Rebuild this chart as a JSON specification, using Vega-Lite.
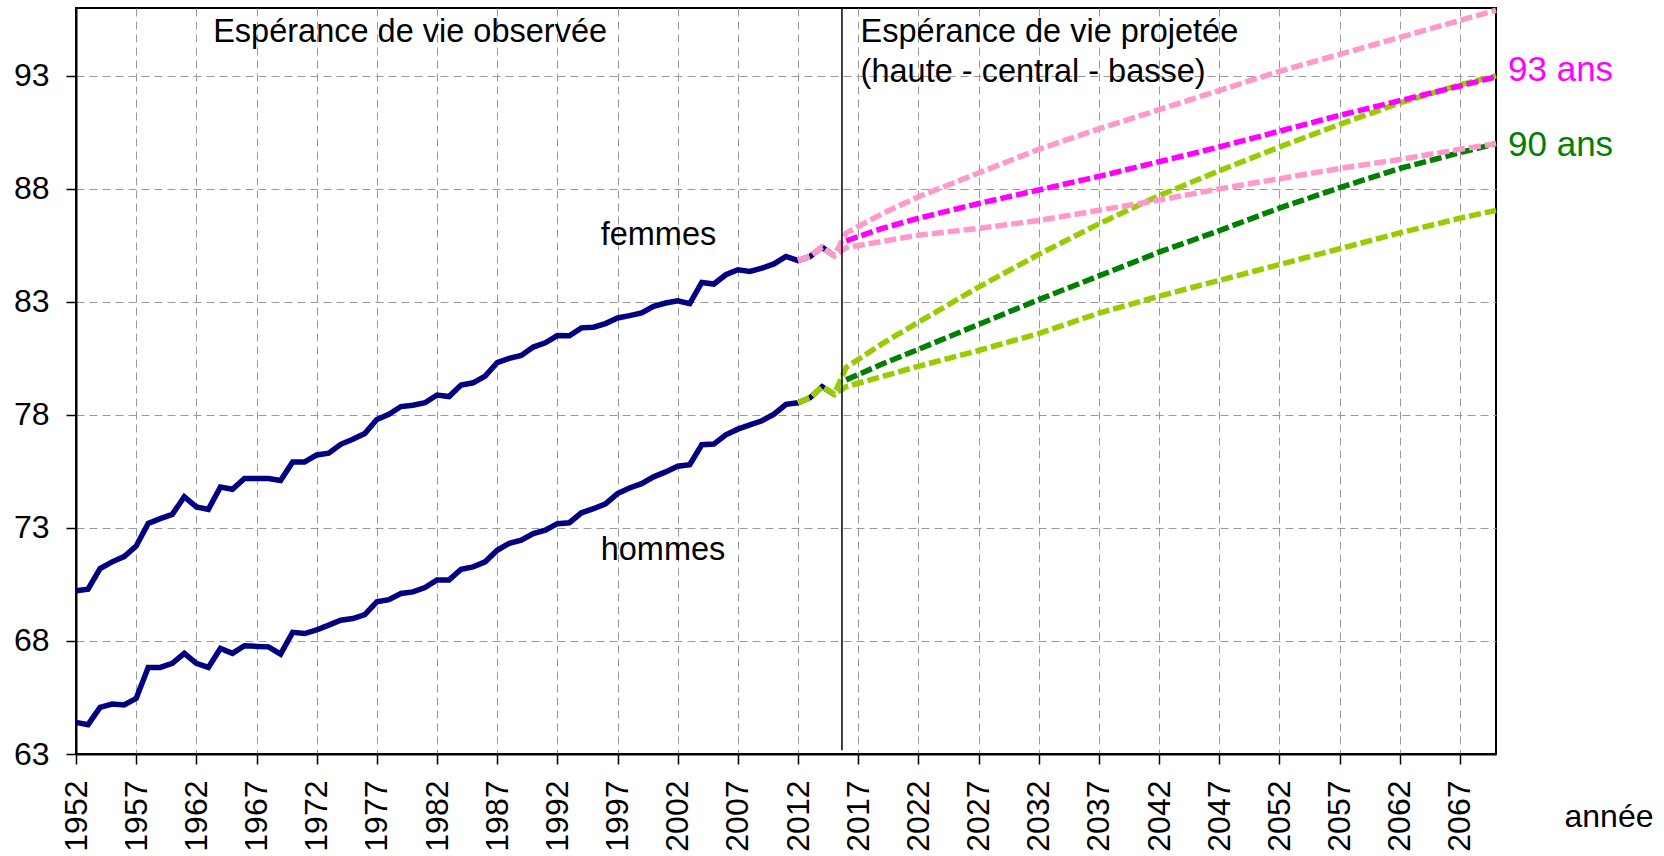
{
  "$schema": "https://vega.github.io/schema/vega-lite/v6.json",
  "width": 1420,
  "height": 746,
  "autosize": {"type": "none"},
  "padding": {"left": 76, "top": 8, "right": 168, "bottom": 102},
  "background": "#ffffff",
  "config": {
    "font": "Liberation Sans",
    "view": {"stroke": "#000000", "strokeWidth": 2},
    "axis": {
      "labelFont": "Liberation Sans",
      "labelFontSize": 32,
      "labelColor": "#000000",
      "tickColor": "#000000",
      "tickSize": 10,
      "tickWidth": 1.5,
      "domainColor": "#000000",
      "domainWidth": 2,
      "grid": true,
      "gridColor": "#999999",
      "gridDash": [8, 5],
      "gridWidth": 1,
      "labelOverlap": false,
      "labelFlush": false,
      "titleFont": "Liberation Sans",
      "titleFontWeight": "normal",
      "titleColor": "#000000"
    }
  },
  "datasets": {
    "observe": [
      {"annee": 1952, "esperance": 70.22, "serie": "femmes"},
      {"annee": 1953, "esperance": 70.29, "serie": "femmes"},
      {"annee": 1954, "esperance": 71.2, "serie": "femmes"},
      {"annee": 1955, "esperance": 71.5, "serie": "femmes"},
      {"annee": 1956, "esperance": 71.73, "serie": "femmes"},
      {"annee": 1957, "esperance": 72.2, "serie": "femmes"},
      {"annee": 1958, "esperance": 73.2, "serie": "femmes"},
      {"annee": 1959, "esperance": 73.41, "serie": "femmes"},
      {"annee": 1960, "esperance": 73.6, "serie": "femmes"},
      {"annee": 1961, "esperance": 74.38, "serie": "femmes"},
      {"annee": 1962, "esperance": 73.93, "serie": "femmes"},
      {"annee": 1963, "esperance": 73.82, "serie": "femmes"},
      {"annee": 1964, "esperance": 74.81, "serie": "femmes"},
      {"annee": 1965, "esperance": 74.71, "serie": "femmes"},
      {"annee": 1966, "esperance": 75.19, "serie": "femmes"},
      {"annee": 1967, "esperance": 75.19, "serie": "femmes"},
      {"annee": 1968, "esperance": 75.19, "serie": "femmes"},
      {"annee": 1969, "esperance": 75.1, "serie": "femmes"},
      {"annee": 1970, "esperance": 75.92, "serie": "femmes"},
      {"annee": 1971, "esperance": 75.92, "serie": "femmes"},
      {"annee": 1972, "esperance": 76.23, "serie": "femmes"},
      {"annee": 1973, "esperance": 76.31, "serie": "femmes"},
      {"annee": 1974, "esperance": 76.7, "serie": "femmes"},
      {"annee": 1975, "esperance": 76.92, "serie": "femmes"},
      {"annee": 1976, "esperance": 77.18, "serie": "femmes"},
      {"annee": 1977, "esperance": 77.8, "serie": "femmes"},
      {"annee": 1978, "esperance": 78.03, "serie": "femmes"},
      {"annee": 1979, "esperance": 78.37, "serie": "femmes"},
      {"annee": 1980, "esperance": 78.43, "serie": "femmes"},
      {"annee": 1981, "esperance": 78.54, "serie": "femmes"},
      {"annee": 1982, "esperance": 78.88, "serie": "femmes"},
      {"annee": 1983, "esperance": 78.81, "serie": "femmes"},
      {"annee": 1984, "esperance": 79.32, "serie": "femmes"},
      {"annee": 1985, "esperance": 79.42, "serie": "femmes"},
      {"annee": 1986, "esperance": 79.72, "serie": "femmes"},
      {"annee": 1987, "esperance": 80.31, "serie": "femmes"},
      {"annee": 1988, "esperance": 80.5, "serie": "femmes"},
      {"annee": 1989, "esperance": 80.63, "serie": "femmes"},
      {"annee": 1990, "esperance": 81.0, "serie": "femmes"},
      {"annee": 1991, "esperance": 81.19, "serie": "femmes"},
      {"annee": 1992, "esperance": 81.51, "serie": "femmes"},
      {"annee": 1993, "esperance": 81.5, "serie": "femmes"},
      {"annee": 1994, "esperance": 81.85, "serie": "femmes"},
      {"annee": 1995, "esperance": 81.88, "serie": "femmes"},
      {"annee": 1996, "esperance": 82.04, "serie": "femmes"},
      {"annee": 1997, "esperance": 82.29, "serie": "femmes"},
      {"annee": 1998, "esperance": 82.39, "serie": "femmes"},
      {"annee": 1999, "esperance": 82.51, "serie": "femmes"},
      {"annee": 2000, "esperance": 82.8, "serie": "femmes"},
      {"annee": 2001, "esperance": 82.95, "serie": "femmes"},
      {"annee": 2002, "esperance": 83.05, "serie": "femmes"},
      {"annee": 2003, "esperance": 82.92, "serie": "femmes"},
      {"annee": 2004, "esperance": 83.86, "serie": "femmes"},
      {"annee": 2005, "esperance": 83.79, "serie": "femmes"},
      {"annee": 2006, "esperance": 84.2, "serie": "femmes"},
      {"annee": 2007, "esperance": 84.42, "serie": "femmes"},
      {"annee": 2008, "esperance": 84.35, "serie": "femmes"},
      {"annee": 2009, "esperance": 84.49, "serie": "femmes"},
      {"annee": 2010, "esperance": 84.68, "serie": "femmes"},
      {"annee": 2011, "esperance": 85.01, "serie": "femmes"},
      {"annee": 2012, "esperance": 84.83, "serie": "femmes"},
      {"annee": 2013, "esperance": 85.01, "serie": "femmes"},
      {"annee": 2014, "esperance": 85.42, "serie": "femmes"},
      {"annee": 2015, "esperance": 85.04, "serie": "femmes"},
      {"annee": 1952, "esperance": 64.4, "serie": "hommes"},
      {"annee": 1953, "esperance": 64.3, "serie": "hommes"},
      {"annee": 1954, "esperance": 65.06, "serie": "hommes"},
      {"annee": 1955, "esperance": 65.21, "serie": "hommes"},
      {"annee": 1956, "esperance": 65.17, "serie": "hommes"},
      {"annee": 1957, "esperance": 65.46, "serie": "hommes"},
      {"annee": 1958, "esperance": 66.83, "serie": "hommes"},
      {"annee": 1959, "esperance": 66.83, "serie": "hommes"},
      {"annee": 1960, "esperance": 67.01, "serie": "hommes"},
      {"annee": 1961, "esperance": 67.45, "serie": "hommes"},
      {"annee": 1962, "esperance": 67.01, "serie": "hommes"},
      {"annee": 1963, "esperance": 66.83, "serie": "hommes"},
      {"annee": 1964, "esperance": 67.67, "serie": "hommes"},
      {"annee": 1965, "esperance": 67.45, "serie": "hommes"},
      {"annee": 1966, "esperance": 67.79, "serie": "hommes"},
      {"annee": 1967, "esperance": 67.76, "serie": "hommes"},
      {"annee": 1968, "esperance": 67.74, "serie": "hommes"},
      {"annee": 1969, "esperance": 67.42, "serie": "hommes"},
      {"annee": 1970, "esperance": 68.38, "serie": "hommes"},
      {"annee": 1971, "esperance": 68.33, "serie": "hommes"},
      {"annee": 1972, "esperance": 68.49, "serie": "hommes"},
      {"annee": 1973, "esperance": 68.7, "serie": "hommes"},
      {"annee": 1974, "esperance": 68.92, "serie": "hommes"},
      {"annee": 1975, "esperance": 68.99, "serie": "hommes"},
      {"annee": 1976, "esperance": 69.17, "serie": "hommes"},
      {"annee": 1977, "esperance": 69.73, "serie": "hommes"},
      {"annee": 1978, "esperance": 69.83, "serie": "hommes"},
      {"annee": 1979, "esperance": 70.1, "serie": "hommes"},
      {"annee": 1980, "esperance": 70.17, "serie": "hommes"},
      {"annee": 1981, "esperance": 70.36, "serie": "hommes"},
      {"annee": 1982, "esperance": 70.7, "serie": "hommes"},
      {"annee": 1983, "esperance": 70.7, "serie": "hommes"},
      {"annee": 1984, "esperance": 71.17, "serie": "hommes"},
      {"annee": 1985, "esperance": 71.28, "serie": "hommes"},
      {"annee": 1986, "esperance": 71.5, "serie": "hommes"},
      {"annee": 1987, "esperance": 72.01, "serie": "hommes"},
      {"annee": 1988, "esperance": 72.32, "serie": "hommes"},
      {"annee": 1989, "esperance": 72.46, "serie": "hommes"},
      {"annee": 1990, "esperance": 72.75, "serie": "hommes"},
      {"annee": 1991, "esperance": 72.9, "serie": "hommes"},
      {"annee": 1992, "esperance": 73.19, "serie": "hommes"},
      {"annee": 1993, "esperance": 73.23, "serie": "hommes"},
      {"annee": 1994, "esperance": 73.67, "serie": "hommes"},
      {"annee": 1995, "esperance": 73.85, "serie": "hommes"},
      {"annee": 1996, "esperance": 74.07, "serie": "hommes"},
      {"annee": 1997, "esperance": 74.52, "serie": "hommes"},
      {"annee": 1998, "esperance": 74.77, "serie": "hommes"},
      {"annee": 1999, "esperance": 74.96, "serie": "hommes"},
      {"annee": 2000, "esperance": 75.26, "serie": "hommes"},
      {"annee": 2001, "esperance": 75.48, "serie": "hommes"},
      {"annee": 2002, "esperance": 75.73, "serie": "hommes"},
      {"annee": 2003, "esperance": 75.8, "serie": "hommes"},
      {"annee": 2004, "esperance": 76.68, "serie": "hommes"},
      {"annee": 2005, "esperance": 76.71, "serie": "hommes"},
      {"annee": 2006, "esperance": 77.12, "serie": "hommes"},
      {"annee": 2007, "esperance": 77.37, "serie": "hommes"},
      {"annee": 2008, "esperance": 77.56, "serie": "hommes"},
      {"annee": 2009, "esperance": 77.74, "serie": "hommes"},
      {"annee": 2010, "esperance": 78.03, "serie": "hommes"},
      {"annee": 2011, "esperance": 78.47, "serie": "hommes"},
      {"annee": 2012, "esperance": 78.54, "serie": "hommes"},
      {"annee": 2013, "esperance": 78.76, "serie": "hommes"},
      {"annee": 2014, "esperance": 79.25, "serie": "hommes"},
      {"annee": 2015, "esperance": 78.91, "serie": "hommes"}
    ],
    "projete": [
      {"annee": 2012, "esperance": 78.54, "serie": "hommes haute", "sexe": "hommes"},
      {"annee": 2013, "esperance": 78.76, "serie": "hommes haute", "sexe": "hommes"},
      {"annee": 2014, "esperance": 79.25, "serie": "hommes haute", "sexe": "hommes"},
      {"annee": 2015, "esperance": 78.91, "serie": "hommes haute", "sexe": "hommes"},
      {"annee": 2016, "esperance": 80.1, "serie": "hommes haute", "sexe": "hommes"},
      {"annee": 2019, "esperance": 81.15, "serie": "hommes haute", "sexe": "hommes"},
      {"annee": 2022, "esperance": 82.1, "serie": "hommes haute", "sexe": "hommes"},
      {"annee": 2027, "esperance": 83.65, "serie": "hommes haute", "sexe": "hommes"},
      {"annee": 2032, "esperance": 85.1, "serie": "hommes haute", "sexe": "hommes"},
      {"annee": 2037, "esperance": 86.45, "serie": "hommes haute", "sexe": "hommes"},
      {"annee": 2042, "esperance": 87.7, "serie": "hommes haute", "sexe": "hommes"},
      {"annee": 2047, "esperance": 88.8, "serie": "hommes haute", "sexe": "hommes"},
      {"annee": 2052, "esperance": 89.85, "serie": "hommes haute", "sexe": "hommes"},
      {"annee": 2057, "esperance": 90.85, "serie": "hommes haute", "sexe": "hommes"},
      {"annee": 2062, "esperance": 91.8, "serie": "hommes haute", "sexe": "hommes"},
      {"annee": 2067, "esperance": 92.6, "serie": "hommes haute", "sexe": "hommes"},
      {"annee": 2070, "esperance": 93.0, "serie": "hommes haute", "sexe": "hommes"},
      {"annee": 2016, "esperance": 79.55, "serie": "hommes centrale", "sexe": "hommes"},
      {"annee": 2019, "esperance": 80.25, "serie": "hommes centrale", "sexe": "hommes"},
      {"annee": 2022, "esperance": 80.9, "serie": "hommes centrale", "sexe": "hommes"},
      {"annee": 2027, "esperance": 82.0, "serie": "hommes centrale", "sexe": "hommes"},
      {"annee": 2032, "esperance": 83.1, "serie": "hommes centrale", "sexe": "hommes"},
      {"annee": 2037, "esperance": 84.15, "serie": "hommes centrale", "sexe": "hommes"},
      {"annee": 2042, "esperance": 85.2, "serie": "hommes centrale", "sexe": "hommes"},
      {"annee": 2047, "esperance": 86.15, "serie": "hommes centrale", "sexe": "hommes"},
      {"annee": 2052, "esperance": 87.15, "serie": "hommes centrale", "sexe": "hommes"},
      {"annee": 2057, "esperance": 88.05, "serie": "hommes centrale", "sexe": "hommes"},
      {"annee": 2062, "esperance": 88.9, "serie": "hommes centrale", "sexe": "hommes"},
      {"annee": 2067, "esperance": 89.6, "serie": "hommes centrale", "sexe": "hommes"},
      {"annee": 2070, "esperance": 90.0, "serie": "hommes centrale", "sexe": "hommes"},
      {"annee": 2012, "esperance": 78.54, "serie": "hommes basse", "sexe": "hommes"},
      {"annee": 2013, "esperance": 78.76, "serie": "hommes basse", "sexe": "hommes"},
      {"annee": 2014, "esperance": 79.25, "serie": "hommes basse", "sexe": "hommes"},
      {"annee": 2015, "esperance": 78.91, "serie": "hommes basse", "sexe": "hommes"},
      {"annee": 2016, "esperance": 79.25, "serie": "hommes basse", "sexe": "hommes"},
      {"annee": 2022, "esperance": 80.15, "serie": "hommes basse", "sexe": "hommes"},
      {"annee": 2027, "esperance": 80.85, "serie": "hommes basse", "sexe": "hommes"},
      {"annee": 2032, "esperance": 81.6, "serie": "hommes basse", "sexe": "hommes"},
      {"annee": 2037, "esperance": 82.5, "serie": "hommes basse", "sexe": "hommes"},
      {"annee": 2042, "esperance": 83.25, "serie": "hommes basse", "sexe": "hommes"},
      {"annee": 2047, "esperance": 83.95, "serie": "hommes basse", "sexe": "hommes"},
      {"annee": 2052, "esperance": 84.65, "serie": "hommes basse", "sexe": "hommes"},
      {"annee": 2057, "esperance": 85.35, "serie": "hommes basse", "sexe": "hommes"},
      {"annee": 2062, "esperance": 86.05, "serie": "hommes basse", "sexe": "hommes"},
      {"annee": 2067, "esperance": 86.7, "serie": "hommes basse", "sexe": "hommes"},
      {"annee": 2070, "esperance": 87.05, "serie": "hommes basse", "sexe": "hommes"},
      {"annee": 2012, "esperance": 84.83, "serie": "femmes haute", "sexe": "femmes"},
      {"annee": 2013, "esperance": 85.01, "serie": "femmes haute", "sexe": "femmes"},
      {"annee": 2014, "esperance": 85.42, "serie": "femmes haute", "sexe": "femmes"},
      {"annee": 2015, "esperance": 85.04, "serie": "femmes haute", "sexe": "femmes"},
      {"annee": 2016, "esperance": 86.05, "serie": "femmes haute", "sexe": "femmes"},
      {"annee": 2019, "esperance": 86.9, "serie": "femmes haute", "sexe": "femmes"},
      {"annee": 2022, "esperance": 87.65, "serie": "femmes haute", "sexe": "femmes"},
      {"annee": 2027, "esperance": 88.7, "serie": "femmes haute", "sexe": "femmes"},
      {"annee": 2032, "esperance": 89.75, "serie": "femmes haute", "sexe": "femmes"},
      {"annee": 2037, "esperance": 90.65, "serie": "femmes haute", "sexe": "femmes"},
      {"annee": 2042, "esperance": 91.5, "serie": "femmes haute", "sexe": "femmes"},
      {"annee": 2047, "esperance": 92.35, "serie": "femmes haute", "sexe": "femmes"},
      {"annee": 2052, "esperance": 93.2, "serie": "femmes haute", "sexe": "femmes"},
      {"annee": 2057, "esperance": 93.95, "serie": "femmes haute", "sexe": "femmes"},
      {"annee": 2062, "esperance": 94.7, "serie": "femmes haute", "sexe": "femmes"},
      {"annee": 2067, "esperance": 95.45, "serie": "femmes haute", "sexe": "femmes"},
      {"annee": 2070, "esperance": 95.9, "serie": "femmes haute", "sexe": "femmes"},
      {"annee": 2012, "esperance": 84.83, "serie": "femmes basse", "sexe": "femmes"},
      {"annee": 2013, "esperance": 85.01, "serie": "femmes basse", "sexe": "femmes"},
      {"annee": 2014, "esperance": 85.42, "serie": "femmes basse", "sexe": "femmes"},
      {"annee": 2015, "esperance": 85.04, "serie": "femmes basse", "sexe": "femmes"},
      {"annee": 2016, "esperance": 85.4, "serie": "femmes basse", "sexe": "femmes"},
      {"annee": 2022, "esperance": 85.95, "serie": "femmes basse", "sexe": "femmes"},
      {"annee": 2027, "esperance": 86.25, "serie": "femmes basse", "sexe": "femmes"},
      {"annee": 2032, "esperance": 86.6, "serie": "femmes basse", "sexe": "femmes"},
      {"annee": 2037, "esperance": 87.05, "serie": "femmes basse", "sexe": "femmes"},
      {"annee": 2042, "esperance": 87.5, "serie": "femmes basse", "sexe": "femmes"},
      {"annee": 2047, "esperance": 88.0, "serie": "femmes basse", "sexe": "femmes"},
      {"annee": 2052, "esperance": 88.45, "serie": "femmes basse", "sexe": "femmes"},
      {"annee": 2057, "esperance": 88.9, "serie": "femmes basse", "sexe": "femmes"},
      {"annee": 2062, "esperance": 89.3, "serie": "femmes basse", "sexe": "femmes"},
      {"annee": 2067, "esperance": 89.75, "serie": "femmes basse", "sexe": "femmes"},
      {"annee": 2070, "esperance": 90.0, "serie": "femmes basse", "sexe": "femmes"},
      {"annee": 2016, "esperance": 85.7, "serie": "femmes centrale", "sexe": "femmes"},
      {"annee": 2019, "esperance": 86.25, "serie": "femmes centrale", "sexe": "femmes"},
      {"annee": 2022, "esperance": 86.7, "serie": "femmes centrale", "sexe": "femmes"},
      {"annee": 2027, "esperance": 87.35, "serie": "femmes centrale", "sexe": "femmes"},
      {"annee": 2032, "esperance": 87.95, "serie": "femmes centrale", "sexe": "femmes"},
      {"annee": 2037, "esperance": 88.55, "serie": "femmes centrale", "sexe": "femmes"},
      {"annee": 2042, "esperance": 89.2, "serie": "femmes centrale", "sexe": "femmes"},
      {"annee": 2047, "esperance": 89.85, "serie": "femmes centrale", "sexe": "femmes"},
      {"annee": 2052, "esperance": 90.55, "serie": "femmes centrale", "sexe": "femmes"},
      {"annee": 2057, "esperance": 91.25, "serie": "femmes centrale", "sexe": "femmes"},
      {"annee": 2062, "esperance": 91.9, "serie": "femmes centrale", "sexe": "femmes"},
      {"annee": 2067, "esperance": 92.55, "serie": "femmes centrale", "sexe": "femmes"},
      {"annee": 2070, "esperance": 92.95, "serie": "femmes centrale", "sexe": "femmes"}
    ],
    "separation": [
      {"annee": 2015.65, "haut": 96, "bas": 63.17}
    ],
    "annotations": [
      {"texte": "Espérance de vie observée", "annee": 1963.4, "esperance": 94.5, "couleur": "noir"},
      {"texte": "Espérance de vie projetée", "annee": 2017.2, "esperance": 94.5, "couleur": "noir"},
      {"texte": "(haute - central - basse)", "annee": 2017.2, "esperance": 92.74, "couleur": "noir"},
      {"texte": "femmes", "annee": 1995.6, "esperance": 85.5, "couleur": "noir"},
      {"texte": "hommes", "annee": 1995.6, "esperance": 71.58, "couleur": "noir"},
      {"texte": "93 ans", "annee": 2071.0, "esperance": 92.78, "couleur": "magenta"},
      {"texte": "90 ans", "annee": 2071.0, "esperance": 89.46, "couleur": "vert"}
    ]
  },
  "encoding": {
    "x": {
      "field": "annee",
      "type": "quantitative",
      "scale": {"domain": [1952, 2070], "nice": false, "zero": false},
      "axis": {
        "values": [1952, 1957, 1962, 1967, 1972, 1977, 1982, 1987, 1992, 1997, 2002, 2007, 2012, 2017, 2022, 2027, 2032, 2037, 2042, 2047, 2052, 2057, 2062, 2067],
        "format": "d",
        "labelAngle": -90,
        "labelPadding": 16,
        "title": "année",
        "titleFontSize": 32,
        "titleAngle": 0,
        "titleAnchor": "start",
        "titleAlign": "left",
        "titleBaseline": "alphabetic",
        "titleX": 1488,
        "titleY": 72
      }
    },
    "y": {
      "field": "esperance",
      "type": "quantitative",
      "scale": {"domain": [63, 96], "nice": false, "zero": false},
      "axis": {
        "values": [63, 68, 73, 78, 83, 88, 93],
        "labelPadding": 17,
        "title": null
      }
    }
  },
  "layer": [
    {
      "data": {"name": "observe"},
      "mark": {"type": "line", "strokeWidth": 5.5, "color": "#000080", "clip": false},
      "encoding": {"detail": {"field": "serie", "type": "nominal"}}
    },
    {
      "data": {"name": "projete"},
      "transform": [{"filter": "datum.sexe === 'hommes'"}],
      "mark": {"type": "line", "strokeWidth": 5.5, "strokeDash": [12, 4], "clip": false},
      "encoding": {
        "color": {
          "field": "serie",
          "type": "nominal",
          "scale": {
            "domain": ["hommes haute", "hommes centrale", "hommes basse", "femmes haute", "femmes centrale", "femmes basse"],
            "range": ["#99CC00", "#008000", "#99CC00", "#FF99CC", "#FF00FF", "#FF99CC"]
          },
          "legend": null
        }
      }
    },
    {
      "data": {"name": "projete"},
      "transform": [{"filter": "datum.sexe === 'femmes'"}],
      "mark": {"type": "line", "strokeWidth": 5.5, "strokeDash": [12, 4], "clip": false},
      "encoding": {
        "color": {
          "field": "serie",
          "type": "nominal",
          "legend": null
        }
      }
    },
    {
      "data": {"name": "separation"},
      "mark": {"type": "rule", "color": "#000000", "strokeWidth": 1.5},
      "encoding": {
        "y": {"field": "haut", "type": "quantitative"},
        "y2": {"field": "bas"}
      }
    },
    {
      "data": {"name": "annotations"},
      "transform": [{"filter": "datum.couleur === 'noir'"}],
      "mark": {"type": "text", "align": "left", "baseline": "alphabetic", "fontSize": 32.5, "font": "Liberation Sans", "color": "#000000"},
      "encoding": {"text": {"field": "texte"}}
    },
    {
      "data": {"name": "annotations"},
      "transform": [{"filter": "datum.couleur === 'magenta'"}],
      "mark": {"type": "text", "align": "left", "baseline": "alphabetic", "fontSize": 35, "font": "Liberation Sans", "color": "#FF00FF"},
      "encoding": {"text": {"field": "texte"}}
    },
    {
      "data": {"name": "annotations"},
      "transform": [{"filter": "datum.couleur === 'vert'"}],
      "mark": {"type": "text", "align": "left", "baseline": "alphabetic", "fontSize": 35, "font": "Liberation Sans", "color": "#008000"},
      "encoding": {"text": {"field": "texte"}}
    }
  ]
}
